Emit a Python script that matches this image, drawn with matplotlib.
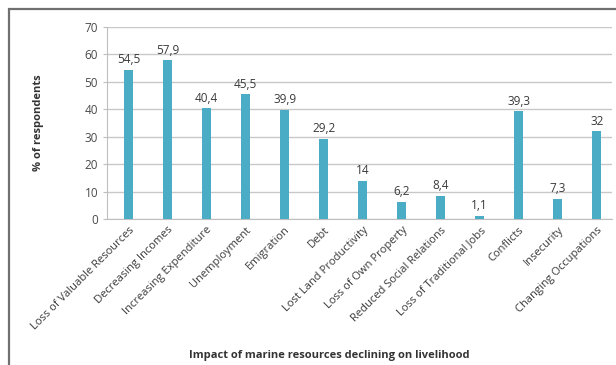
import matplotlib
matplotlib.use("Agg")
import matplotlib.pyplot as plt
from matplotlib.patches import Rectangle

categories = ["Loss of Valuable Resources", "Decreasing Incomes", "Increasing Expenditure",
              "Unemployment", "Emigration", "Debt", "Lost Land Productivity",
              "Loss of Own Property", "Reduced Social Relations", "Loss of Traditional Jobs",
              "Conflicts", "Insecurity", "Changing Occupations"]
values = [54.5, 57.9, 40.4, 45.5, 39.9, 29.2, 14, 6.2, 8.4, 1.1, 39.3, 7.3, 32]
yticks = [0, 10, 20, 30, 40, 50, 60, 70]

plt.rcParams['font.family'] = ['Open Sans', 'DejaVu Sans']

fig = plt.figure(figsize=(6.16, 3.65), dpi=100)
ax = fig.add_axes([0.174, 0.40, 0.82, 0.526])

bar_color = "#4bacc6"
x = list(range(len(categories)))
ax.bar(x, values, width=0.22, color=bar_color, zorder=3)

for xi, v in zip(x, values):
    txt = ("%g" % v).replace(".", ",")
    ax.text(xi, v + 1.3, txt, ha="center", va="bottom", fontsize=8.5,
            color="#3a3a3a", zorder=4)

ax.set_xlim(-0.55, 12.4)
ax.set_ylim(0, 70)
ax.set_yticks(yticks)
ax.tick_params(axis="y", labelsize=8.5, labelcolor="#4a4a4a", length=3, color="#bfbfbf")
ax.set_xticks(x)
ax.set_xticklabels(categories, rotation=45, ha="right", rotation_mode="anchor",
                   fontsize=8, color="#3a3a3a")
ax.tick_params(axis="x", length=0, pad=4)
ax.grid(axis="y", color="#c8c8c8", linewidth=1, zorder=0)

for s in ["top", "right"]:
    ax.spines[s].set_visible(False)
ax.spines["left"].set_color("#bfbfbf")
ax.spines["bottom"].set_color("#bfbfbf")

ax.set_ylabel("% of respondents", fontsize=8, fontweight="bold", color="#333333")
ax.yaxis.set_label_coords(-0.125, 0.5)
fig.text(0.535, 0.027, "Impact of marine resources declining on livelihood",
         ha="center", va="center", fontsize=8, fontweight="bold", color="#333333")

# outer frame around the chart
fig.patches.append(Rectangle((9 / 616, -0.1), 1.2, 1 - 9 / 365 + 0.1,
                             transform=fig.transFigure, fill=False,
                             edgecolor="#707070", linewidth=1.6))

fig.savefig("out.png", dpi=100)
